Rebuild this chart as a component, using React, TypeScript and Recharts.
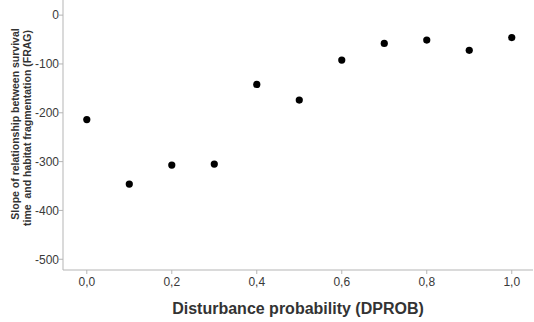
import { ScatterChart, Scatter, XAxis, YAxis, Label } from "recharts";

const dprob = [0.0, 0.1, 0.2, 0.3, 0.4, 0.5, 0.6, 0.7, 0.8, 0.9, 1.0];
const slope = [-214, -346, -307, -305, -142, -174, -92, -58, -51, -72, -46];
const xTicks = [0, 0.2, 0.4, 0.6, 0.8, 1.0];
const yTicks = [0, -100, -200, -300, -400, -500];
const yTitle = ["Slope of relationship between survival", "time  and habitat fragmentation (FRAG)"];
const xTitle = "Disturbance probability (DPROB)";

const data = dprob.map((x, i) => ({ x, y: slope[i] }));

const font = "'Liberation Sans', Arial, sans-serif";
const axisColor = "#b5b5b5";
const tickStyle = { fontSize: 12, fill: "#3a3a3a", fontFamily: font };

const Dot = (props: any) => <circle cx={props.cx} cy={props.cy} r={3.6} fill="#000" />;

const YTitle = () => (
  <g>
    {yTitle.map((line, i) => (
      <text
        key={i}
        x={0}
        y={0}
        transform={`translate(${19 + i * 12}, ${124 + i * 4}) rotate(-90)`}
        textAnchor="middle"
        fontSize={10.5}
        fontWeight="bold"
        fontFamily={font}
        fill="#333"
        style={{ whiteSpace: "pre" }}
      >
        {line}
      </text>
    ))}
  </g>
);

export default function App() {
  return (
    <div style={{ position: "absolute", left: 0, top: 0, background: "#fff" }}>
      <ScatterChart width={534} height={322} margin={{ top: 0, right: 1, left: 0, bottom: 0 }}>
        <XAxis
          type="number"
          dataKey="x"
          domain={[-0.056, 1.05]}
          ticks={xTicks}
          tickFormatter={(v: number) => v.toFixed(1).replace(".", ",")}
          tick={tickStyle}
          stroke={axisColor}
          tickSize={4}
          tickMargin={3}
          height={52}
          allowDataOverflow
        >
          <Label
            value={xTitle}
            position="insideBottom"
            offset={8}
            style={{ fontSize: 16, fontWeight: "bold", fill: "#333", fontFamily: font }}
          />
        </XAxis>
        <YAxis
          type="number"
          dataKey="y"
          domain={[-522, 31]}
          ticks={yTicks}
          tick={tickStyle}
          stroke={axisColor}
          tickSize={4}
          tickMargin={0}
          width={63}
          allowDataOverflow
        >
          <Label content={<YTitle />} />
        </YAxis>
        <Scatter data={data} shape={<Dot />} isAnimationActive={false} />
      </ScatterChart>
    </div>
  );
}
